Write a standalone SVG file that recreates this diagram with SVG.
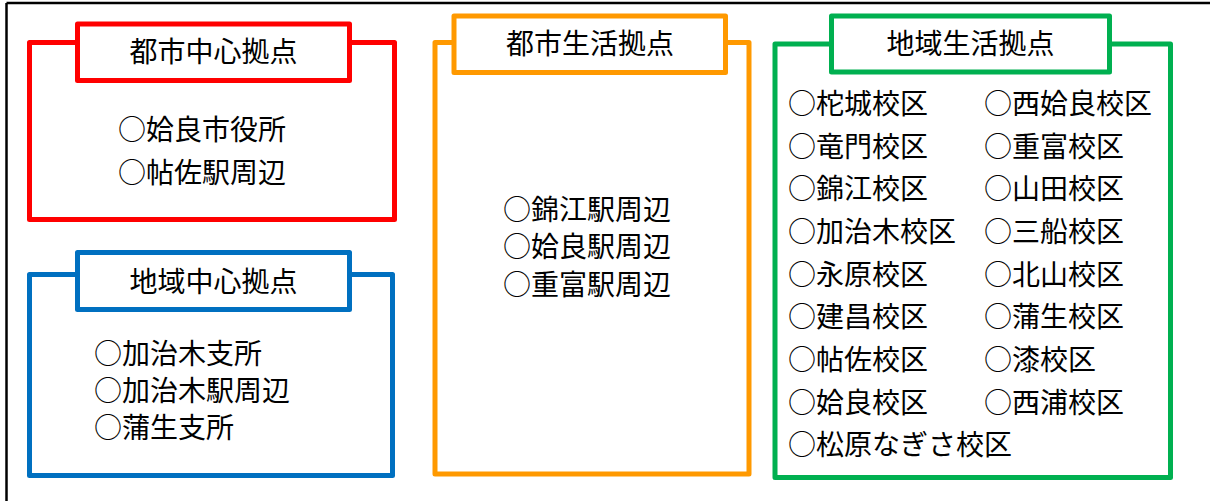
<svg xmlns="http://www.w3.org/2000/svg" width="1210" height="501" viewBox="0 0 1210 501">
<style>
  .box { fill: #ffffff; stroke-width: 5; stroke-linejoin: round; }
  .red { stroke: #FF0000; }
  .blue { stroke: #0070C0; }
  .orange { stroke: #FF9900; }
  .green { stroke: #00B050; }
  text { font-family: "Noto Sans CJK JP", "Noto Sans CJK SC", sans-serif; font-size: 28px; fill: #000000; }
  .title { text-anchor: middle; }
</style>
<rect width="1210" height="501" fill="#ffffff"/>
<g id="frame">
  <line x1="6.5" y1="3" x2="1210" y2="3" stroke="#000" stroke-width="2.5"/>
  <line x1="6.5" y1="3" x2="6.5" y2="501" stroke="#000" stroke-width="2.5"/>
</g>
<g id="toshi-chushin">
  <rect class="box red" x="29.5" y="42.5" width="365" height="177"/>
  <rect class="box red" x="77.5" y="24" width="272" height="56.5"/>
  <text class="title" x="213.5" y="62">都市中心拠点</text>
  <text x="118" y="140">○姶良市役所</text>
  <text x="118" y="183">○帖佐駅周辺</text>
</g>
<g id="chiiki-chushin">
  <rect class="box blue" x="29.5" y="274.5" width="363" height="201"/>
  <rect class="box blue" x="77.5" y="252.5" width="272" height="57"/>
  <text class="title" x="213.5" y="292">地域中心拠点</text>
  <text x="94" y="364">○加治木支所</text>
  <text x="94" y="401">○加治木駅周辺</text>
  <text x="94" y="438">○蒲生支所</text>
</g>
<g id="toshi-seikatsu">
  <rect class="box orange" x="435" y="42.5" width="314" height="431.5"/>
  <rect class="box orange" x="454" y="16" width="271.5" height="56.5"/>
  <text class="title" x="590" y="54">都市生活拠点</text>
  <text x="503" y="220">○錦江駅周辺</text>
  <text x="503" y="257">○姶良駅周辺</text>
  <text x="503" y="295">○重富駅周辺</text>
</g>
<g id="chiiki-seikatsu">
  <rect class="box green" x="775" y="44" width="395.5" height="433.5"/>
  <rect class="box green" x="831.5" y="16" width="278" height="56"/>
  <text class="title" x="970.5" y="54">地域生活拠点</text>
  <text x="788" y="114">○柁城校区</text>
  <text x="788" y="157">○竜門校区</text>
  <text x="788" y="199">○錦江校区</text>
  <text x="788" y="242">○加治木校区</text>
  <text x="788" y="285">○永原校区</text>
  <text x="788" y="327">○建昌校区</text>
  <text x="788" y="370">○帖佐校区</text>
  <text x="788" y="413">○姶良校区</text>
  <text x="788" y="455">○松原なぎさ校区</text>
  <text x="984" y="114">○西姶良校区</text>
  <text x="984" y="157">○重富校区</text>
  <text x="984" y="199">○山田校区</text>
  <text x="984" y="242">○三船校区</text>
  <text x="984" y="285">○北山校区</text>
  <text x="984" y="327">○蒲生校区</text>
  <text x="984" y="370">○漆校区</text>
  <text x="984" y="413">○西浦校区</text>
</g>
</svg>
